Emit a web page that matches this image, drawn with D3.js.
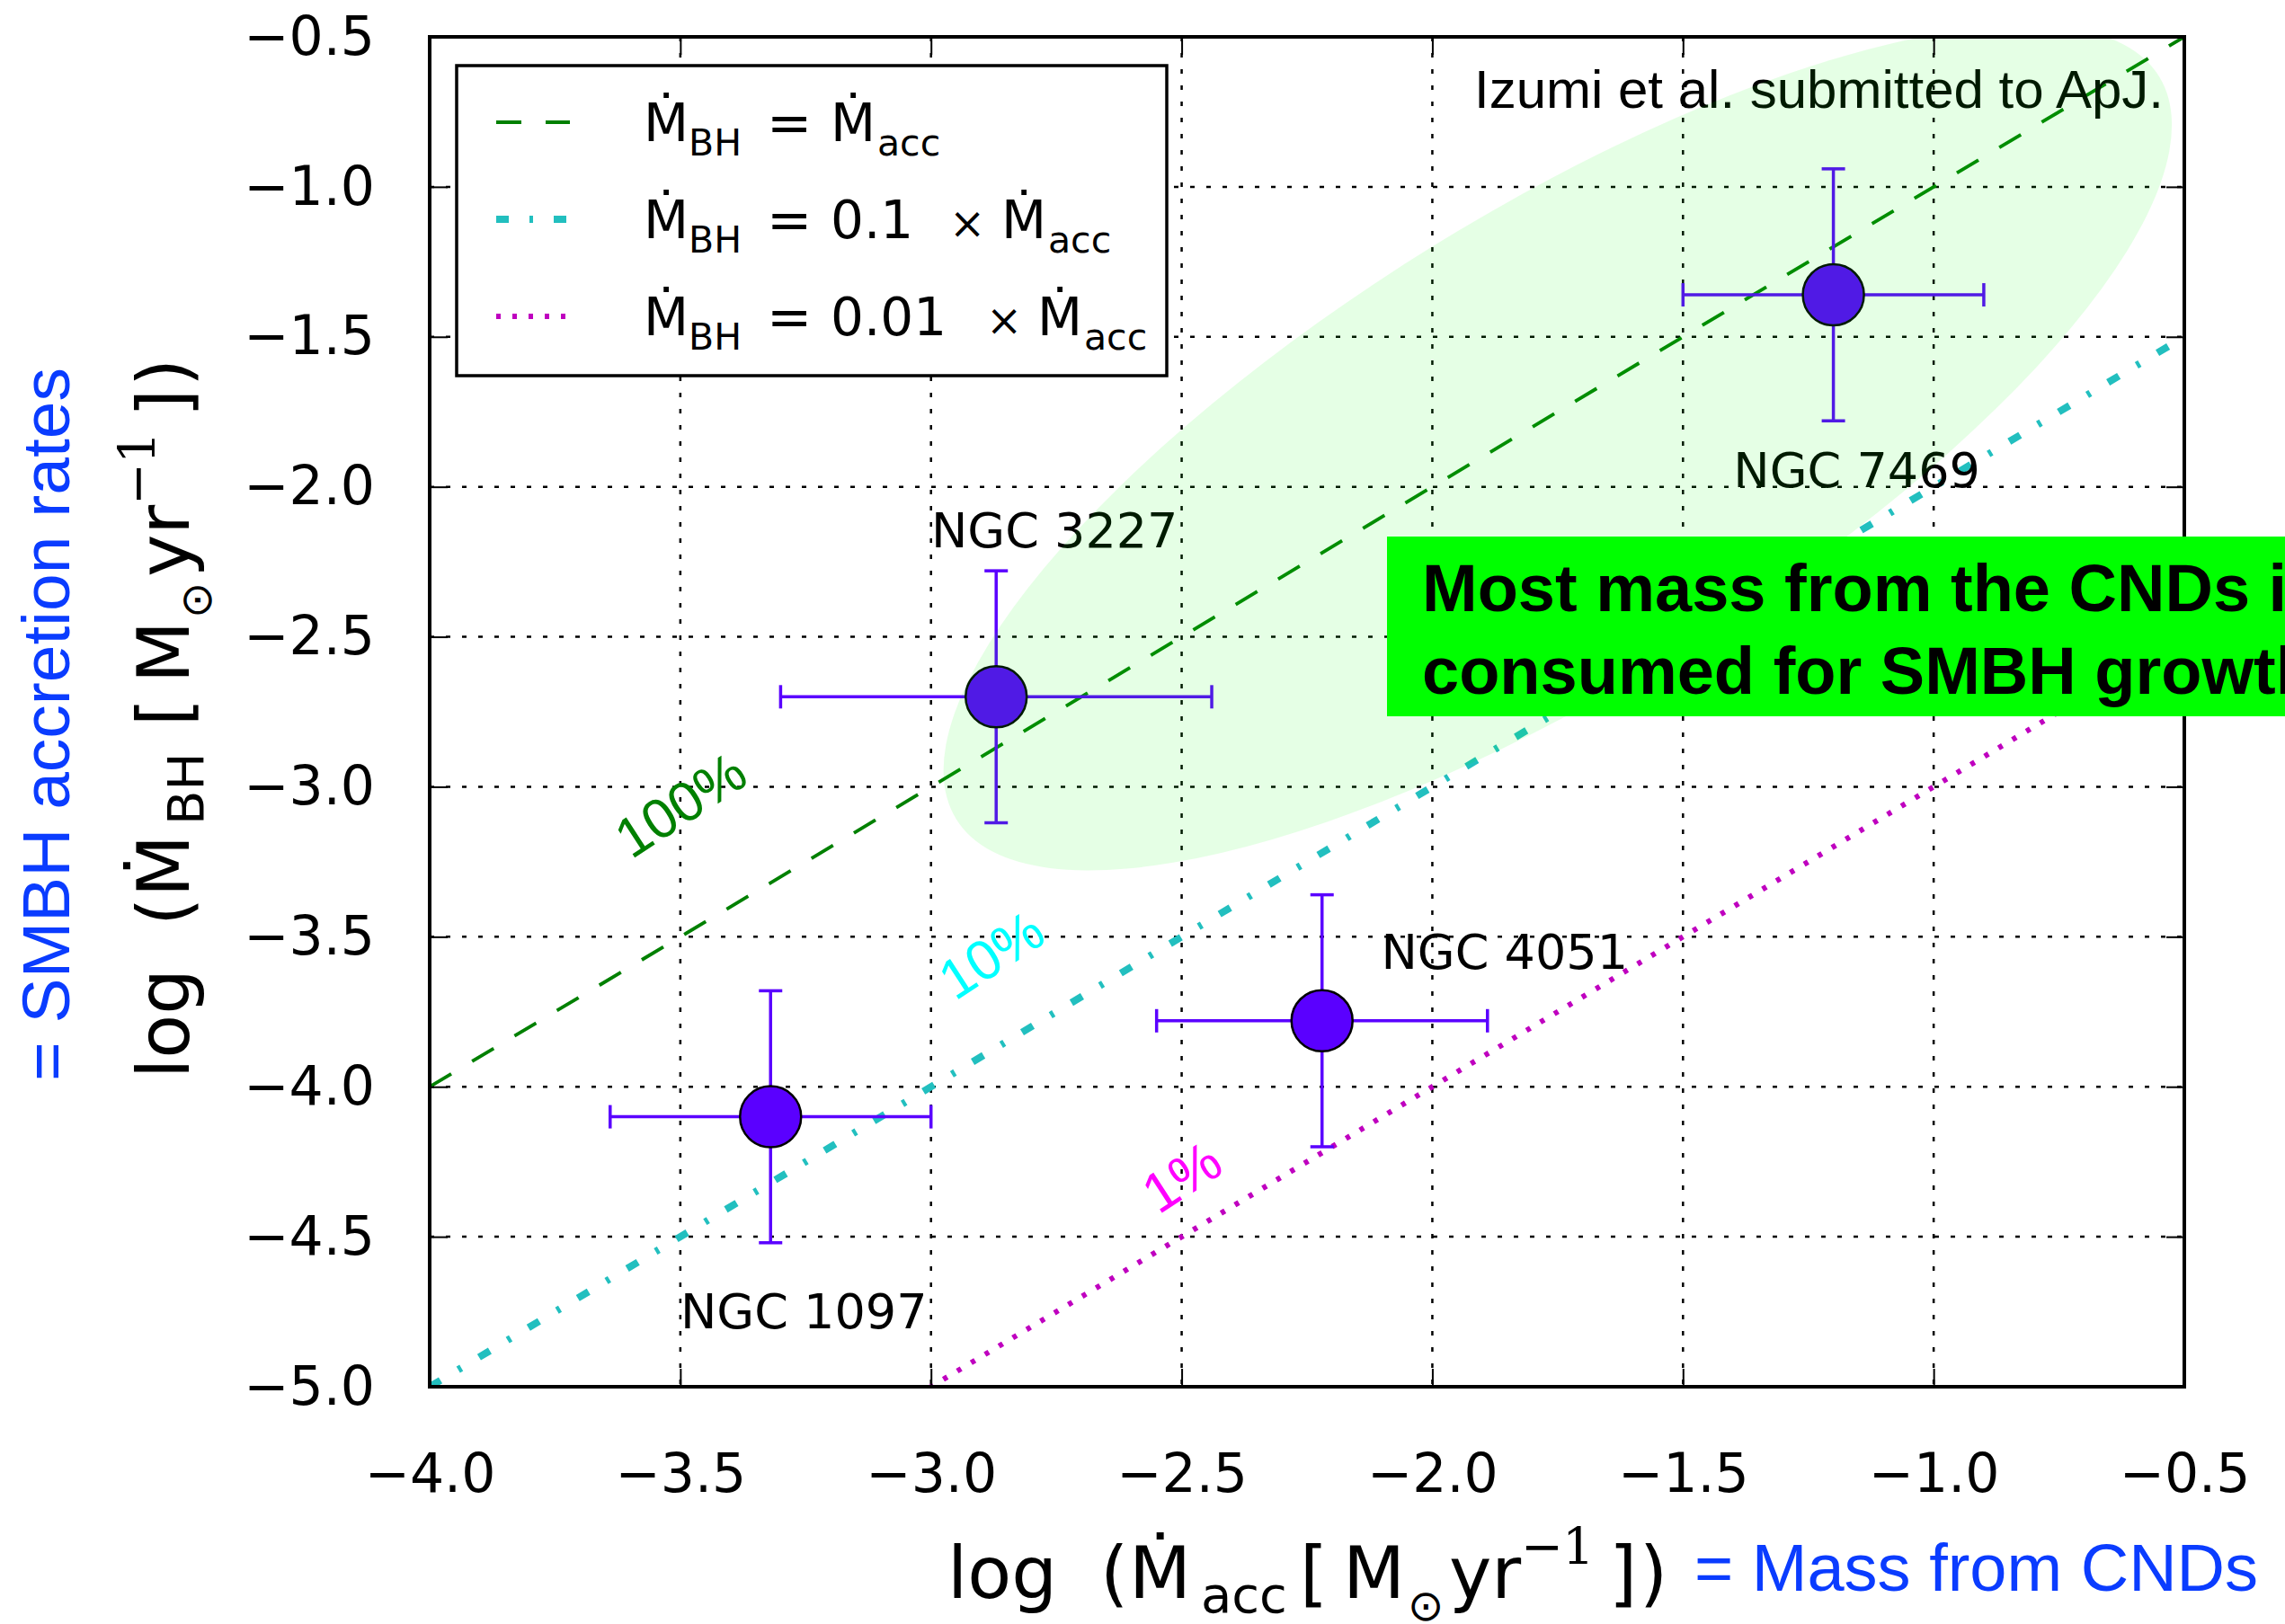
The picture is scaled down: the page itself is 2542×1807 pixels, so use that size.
<!DOCTYPE html>
<html>
<head>
<meta charset="utf-8">
<script src="https://cdn.jsdelivr.net/npm/d3@7"></script>
<style>
  body { margin: 0; background: #fff; }
  text { font-family: "DejaVu Sans", sans-serif; }
</style>
</head>
<body>
<svg id="chart"></svg>
<script>
// galaxies and their rates (log Msun/yr)
var galaxies = ['NGC 1097', 'NGC 3227', 'NGC 4051', 'NGC 7469'];
var logMacc = [-3.32, -2.87, -2.22, -1.20];
var logMaccErr = [0.32, 0.43, 0.33, 0.30];
var logMbh = [-4.10, -2.70, -3.78, -1.36];
var logMbhErr = [0.42, 0.42, 0.42, 0.42];

// Mbh = ratio x Macc reference lines
var ratios = [1, 0.1, 0.01];
var ratioLabels = ['100%', '10%', '1%'];
var ratioLabelX = [-3.50, -2.88, -2.50];
var ratioLabelY = [-3.06, -3.56, -4.30];

// ticks
var xTicks = [-4.0, -3.5, -3.0, -2.5, -2.0, -1.5, -1.0, -0.5];
var yTicks = [-5.0, -4.5, -4.0, -3.5, -3.0, -2.5, -2.0, -1.5, -1.0, -0.5];

// shaded region (centre in data units, semi axes in x units)
var regionCenter = [-1.75, -1.87];
var regionAxes = [1.41, 0.473];
var regionAngle = 31.7;

var W = 2542, H = 1807;
var svg = d3.select('#chart').attr('width', W).attr('height', H);
svg.append('rect').attr('width', W).attr('height', H).attr('fill', '#fff');

var x = d3.scaleLinear().domain([-4, -0.5]).range([478, 2430]);
var y = d3.scaleLinear().domain([-5, -0.5]).range([1543, 41]);

svg.append('clipPath').attr('id', 'plotclip')
  .append('rect')
  .attr('x', x(-4)).attr('y', y(-0.5))
  .attr('width', x(-0.5) - x(-4)).attr('height', y(-5) - y(-0.5));

// grid
var grid = svg.append('g');
grid.selectAll('.gx').data(xTicks).enter().append('line')
  .attr('x1', d => x(d)).attr('x2', d => x(d))
  .attr('y1', y(-0.5)).attr('y2', y(-5))
  .attr('stroke', '#000').attr('stroke-width', 2.5).attr('stroke-dasharray', '5 13');
grid.selectAll('.gy').data(yTicks).enter().append('line')
  .attr('y1', d => y(d)).attr('y2', d => y(d))
  .attr('x1', x(-4)).attr('x2', x(-0.5))
  .attr('stroke', '#000').attr('stroke-width', 2.5).attr('stroke-dasharray', '5 13');

// ratio lines
var lineStyles = [
  { color: '#008000', width: 3.8, dash: '28 27' },
  { color: '#22bfbf', width: 8, dash: '14 23 4 23' },
  { color: '#bf00bf', width: 6, dash: '5 13' }
];
var line = d3.line().x(d => x(d[0])).y(d => y(d[1]));
var lines = svg.append('g').attr('clip-path', 'url(#plotclip)');
ratios.forEach(function (r, i) {
  var off = Math.log10(r);
  lines.append('path')
    .datum([[-4, -4 + off], [-0.5, -0.5 + off]])
    .attr('d', line)
    .attr('fill', 'none')
    .attr('stroke', lineStyles[i].color)
    .attr('stroke-width', lineStyles[i].width)
    .attr('stroke-dasharray', lineStyles[i].dash);
});

// error bars + markers
var pts = galaxies.map(function (g, i) {
  return { name: g, x: logMacc[i], xe: logMaccErr[i], y: logMbh[i], ye: logMbhErr[i] };
});
var ptColor = '#5a00ff';
var cap = 13;
var eb = svg.append('g').attr('stroke', ptColor).attr('stroke-width', 3.5);
pts.forEach(function (p) {
  eb.append('line').attr('x1', x(p.x - p.xe)).attr('x2', x(p.x + p.xe)).attr('y1', y(p.y)).attr('y2', y(p.y));
  eb.append('line').attr('x1', x(p.x)).attr('x2', x(p.x)).attr('y1', y(p.y - p.ye)).attr('y2', y(p.y + p.ye));
  [p.x - p.xe, p.x + p.xe].forEach(function (v) {
    eb.append('line').attr('x1', x(v)).attr('x2', x(v)).attr('y1', y(p.y) - cap).attr('y2', y(p.y) + cap);
  });
  [p.y - p.ye, p.y + p.ye].forEach(function (v) {
    eb.append('line').attr('y1', y(v)).attr('y2', y(v)).attr('x1', x(p.x) - cap).attr('x2', x(p.x) + cap);
  });
});
svg.append('g').selectAll('circle').data(pts).enter().append('circle')
  .attr('cx', d => x(d.x)).attr('cy', d => y(d.y)).attr('r', 34)
  .attr('fill', ptColor).attr('stroke', '#000').attr('stroke-width', 2.5);

// galaxy names (pixel offsets from marker)
var nameOffsets = [[37, 235], [65, -166], [203, -58], [26, 214]];
svg.append('g').selectAll('text').data(pts).enter().append('text')
  .attr('x', (d, i) => x(d.x) + nameOffsets[i][0])
  .attr('y', (d, i) => y(d.y) + nameOffsets[i][1])
  .attr('text-anchor', 'middle')
  .attr('font-size', 54)
  .text(d => d.name);

// citation
svg.append('text')
  .attr('x', 2407).attr('y', 120)
  .attr('text-anchor', 'end')
  .style('font-family', '"Liberation Sans", Arial, sans-serif')
  .attr('font-size', 60)
  .text('Izumi et al. submitted to ApJ.');

// shaded ellipse on top (translucent)
svg.append('g').attr('clip-path', 'url(#plotclip)')
  .append('ellipse')
  .attr('transform', 'translate(' + x(regionCenter[0]) + ',' + y(regionCenter[1]) + ') rotate(' + (-regionAngle) + ')')
  .attr('rx', x(regionCenter[0] + regionAxes[0]) - x(regionCenter[0]))
  .attr('ry', x(regionCenter[0] + regionAxes[1]) - x(regionCenter[0]))
  .attr('fill', '#00ff00').attr('fill-opacity', 0.1);

// ratio labels
var ratioTextColors = ['#008000', '#00ffff', '#ff00ff'];
svg.append('g').selectAll('text').data(ratioLabels).enter().append('text')
  .attr('transform', (d, i) => 'translate(' + x(ratioLabelX[i]) + ',' + y(ratioLabelY[i]) + ') rotate(-33)')
  .attr('text-anchor', 'middle').attr('dy', '0.35em')
  .style('font-family', '"Liberation Sans", Arial, sans-serif')
  .attr('font-size', 62)
  .attr('fill', (d, i) => ratioTextColors[i])
  .text(d => d);

// axes: inward ticks on all sides
var fmt = d3.format('.1f');
function styleAxis(g) {
  g.select('.domain').remove();
  g.selectAll('.tick line').attr('stroke', '#000').attr('stroke-width', 2);
  g.selectAll('.tick text').attr('fill', '#000').style('font-family', '"DejaVu Sans", sans-serif').attr('font-size', 60);
}
svg.append('g').attr('transform', 'translate(0,' + y(-5) + ')')
  .call(d3.axisBottom(x).tickValues(xTicks).tickFormat(fmt).tickSizeInner(-20).tickSizeOuter(0).tickPadding(0))
  .call(styleAxis)
  .call(g => g.selectAll('.tick text').attr('dy', null).attr('y', 117));
svg.append('g').attr('transform', 'translate(0,' + y(-0.5) + ')')
  .call(d3.axisTop(x).tickValues(xTicks).tickFormat('').tickSizeInner(-20).tickSizeOuter(0))
  .call(styleAxis);
svg.append('g').attr('transform', 'translate(' + x(-4) + ',0)')
  .call(d3.axisLeft(y).tickValues(yTicks).tickFormat(fmt).tickSizeInner(-20).tickSizeOuter(0).tickPadding(0))
  .call(styleAxis)
  .call(g => g.selectAll('.tick text').attr('x', -61));
svg.append('g').attr('transform', 'translate(' + x(-0.5) + ',0)')
  .call(d3.axisRight(y).tickValues(yTicks).tickFormat('').tickSizeInner(-20).tickSizeOuter(0))
  .call(styleAxis);

svg.append('rect')
  .attr('x', x(-4)).attr('y', y(-0.5))
  .attr('width', x(-0.5) - x(-4)).attr('height', y(-5) - y(-0.5))
  .attr('fill', 'none').attr('stroke', '#000').attr('stroke-width', 4);

// math-like label: pieces placed along the baseline
function mathLabel(g, pieces) {
  pieces.forEach(function (p) {
    g.append('text')
      .attr('x', p.off).attr('y', p.dy || 0)
      .attr('font-size', p.size)
      .style('font-family', p.family || '"DejaVu Sans", sans-serif')
      .text(p.t);
  });
}
function rateLabel(sub) {
  return [
    { t: 'log', off: 0, size: 80 },
    { t: '(', off: 170, size: 80 },
    { t: '\u1E40', off: 202, size: 80 },
    { t: sub, off: 282, size: 56, dy: 16 },
    { t: '[', off: 392, size: 80 },
    { t: 'M', off: 440, size: 80 },
    { t: '\u2299', off: 512, size: 48, dy: 25 },
    { t: 'yr', off: 558, size: 80 },
    { t: '\u2212', off: 638, size: 56, dy: -38 },
    { t: '1', off: 684, size: 56, dy: -38, family: '"DejaVu Serif", serif' },
    { t: ']', off: 736, size: 80 },
    { t: ')', off: 770, size: 80 }
  ];
}
var blue = '#0a3cff';
// x label
mathLabel(svg.append('g').attr('transform', 'translate(1054,1778)'), rateLabel('acc'));
svg.append('text').attr('x', 1885).attr('y', 1770)
  .style('font-family', '"Liberation Sans", Arial, sans-serif')
  .attr('font-size', 74).attr('fill', blue)
  .text('= Mass from CNDs');
// y label
mathLabel(svg.append('g').attr('transform', 'translate(210,1200) rotate(-90)'), rateLabel('BH'));
svg.append('text').attr('transform', 'translate(77,806) rotate(-90)')
  .attr('text-anchor', 'middle')
  .style('font-family', '"Liberation Sans", Arial, sans-serif')
  .attr('font-size', 75).attr('fill', blue)
  .text('= SMBH accretion rates');

// legend
var legend = svg.append('g');
legend.append('rect').attr('x', 508).attr('y', 73).attr('width', 790).attr('height', 345)
  .attr('fill', '#fff').attr('stroke', '#000').attr('stroke-width', 3.5);
var legendRowY = [136, 244, 352];
var legendPieces = [
  [{ t: '\u1E40', off: 0, size: 58 }, { t: 'BH', off: 50, size: 41, dy: 16 }, { t: '=', off: 137, size: 60 },
   { t: '\u1E40', off: 208, size: 58 }, { t: 'acc', off: 260, size: 41, dy: 16 }],
  [{ t: '\u1E40', off: 0, size: 58 }, { t: 'BH', off: 50, size: 41, dy: 16 }, { t: '=', off: 137, size: 60 },
   { t: '0.1', off: 208, size: 58 }, { t: '\u00D7', off: 340, size: 48, family: '"DejaVu Serif", serif' },
   { t: '\u1E40', off: 398, size: 58 }, { t: 'acc', off: 450, size: 41, dy: 16 }],
  [{ t: '\u1E40', off: 0, size: 58 }, { t: 'BH', off: 50, size: 41, dy: 16 }, { t: '=', off: 137, size: 60 },
   { t: '0.01', off: 208, size: 58 }, { t: '\u00D7', off: 381, size: 48, family: '"DejaVu Serif", serif' },
   { t: '\u1E40', off: 438, size: 58 }, { t: 'acc', off: 490, size: 41, dy: 16 }]
];
ratios.forEach(function (r, i) {
  legend.append('line')
    .attr('x1', 552).attr('x2', 634).attr('y1', legendRowY[i]).attr('y2', legendRowY[i])
    .attr('stroke', lineStyles[i].color).attr('stroke-width', lineStyles[i].width)
    .attr('stroke-dasharray', lineStyles[i].dash);
  mathLabel(legend.append('g').attr('transform', 'translate(716,' + (legendRowY[i] + 21) + ')'), legendPieces[i]);
});

// callout box
var box = svg.append('g');
box.append('rect').attr('x', 1543).attr('y', 597).attr('width', 1100).attr('height', 200).attr('fill', '#00ff00');
box.append('text').attr('x', 1582).attr('y', 680)
  .style('font-family', '"Liberation Sans", Arial, sans-serif').attr('font-weight', 'bold').attr('font-size', 74)
  .text('Most mass from the CNDs is');
box.append('text').attr('x', 1582).attr('y', 772)
  .style('font-family', '"Liberation Sans", Arial, sans-serif').attr('font-weight', 'bold').attr('font-size', 74)
  .text('consumed for SMBH growth');
</script>
</body>
</html>
